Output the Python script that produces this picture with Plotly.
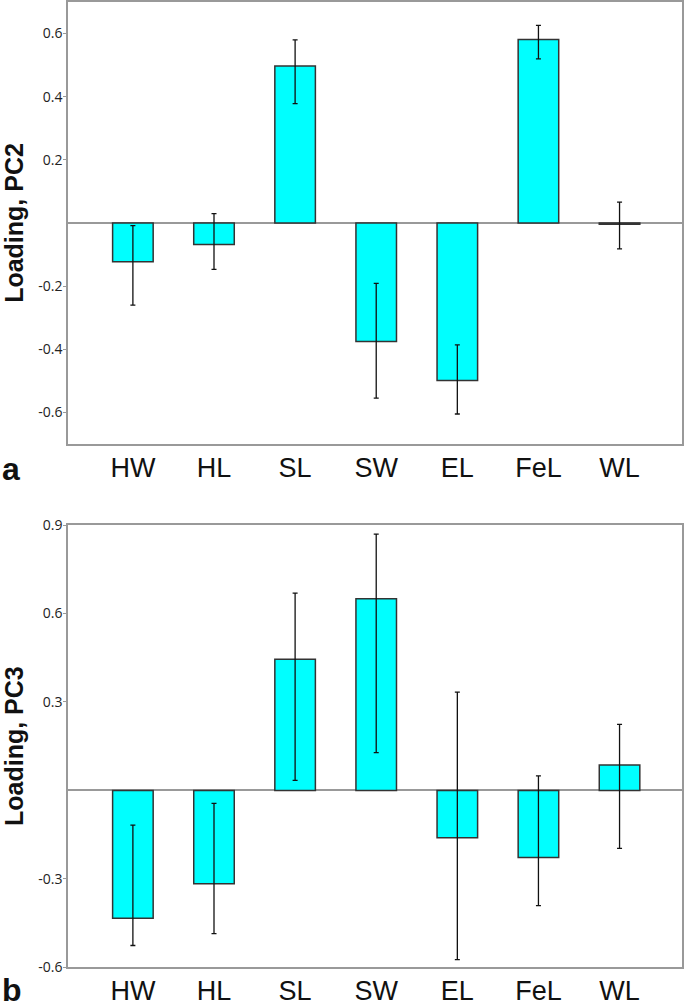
import plotly.graph_objects as go

categories = ["HW", "HL", "SL", "SW", "EL", "FeL", "WL"]

pc2_values = [-0.123, -0.068, 0.497, -0.375, -0.499, 0.581, -0.004]
pc2_err_upper = [-0.008, 0.030, 0.580, -0.191, -0.386, 0.626, 0.066]
pc2_err_lower = [-0.260, -0.147, 0.378, -0.555, -0.605, 0.520, -0.082]

pc3_values = [-0.434, -0.317, 0.445, 0.650, -0.161, -0.228, 0.086]
pc3_err_upper = [-0.118, -0.044, 0.669, 0.869, 0.333, 0.049, 0.224]
pc3_err_lower = [-0.526, -0.486, 0.034, 0.128, -0.574, -0.391, -0.197]

pc2_ticks = [-0.6, -0.4, -0.2, 0.2, 0.4, 0.6]
pc3_ticks = [-0.6, -0.3, 0.3, 0.6, 0.9]

W, H = 685, 1007
fig = go.Figure()


def add_panel(values, up, lo, xa, ya):
    plus = [u - v for u, v in zip(up, values)]
    minus = [v - l for l, v in zip(lo, values)]
    fig.add_trace(go.Bar(
        x=list(range(len(categories))), y=values, width=0.5,
        marker=dict(color="#00FFFF", line=dict(color="#333333", width=1.5)),
        error_y=dict(type="data", symmetric=False, array=plus, arrayminus=minus,
                     color="#111111", thickness=1.3, width=2.5),
        xaxis=xa, yaxis=ya, showlegend=False, hoverinfo="skip",
    ))


add_panel(pc2_values, pc2_err_upper, pc2_err_lower, "x", "y")
add_panel(pc3_values, pc3_err_upper, pc3_err_lower, "x2", "y2")

xdom = [68 / W, 682 / W]
xcommon = dict(
    domain=xdom, range=[-0.8, 6.77], tickmode="array",
    tickvals=list(range(len(categories))), ticktext=categories,
    showline=True, linecolor="#999999", linewidth=1.5, mirror=True,
    showgrid=False, zeroline=False, ticks="", automargin=False,
    tickfont=dict(family="Liberation Sans, Arial", size=27, color="#111111"),
    ticklabelstandoff=-1, fixedrange=True,
)
ycommon = dict(
    showline=True, linecolor="#999999", linewidth=1.5, mirror=True,
    showgrid=False, zeroline=True, zerolinecolor="#999999", zerolinewidth=1.5,
    ticks="outside", ticklen=3, tickcolor="#999999", automargin=False,
    tickfont=dict(family="Open Sans", size=14, color="#222222"),
    ticklabelstandoff=-2, fixedrange=True,
    title=dict(font=dict(family="Liberation Sans, Arial", size=25, color="#111111",
                         weight="bold"), standoff=14),
)

fig.update_layout(
    width=W, height=H, margin=dict(l=0, r=0, t=0, b=0),
    paper_bgcolor="white", plot_bgcolor="white",
    xaxis=dict(anchor="y", **xcommon),
    xaxis2=dict(anchor="y2", **xcommon),
    yaxis=dict(anchor="x", domain=[1 - 444 / H, 1 - 2 / H], range=[-0.7, 0.7],
               tickvals=pc2_ticks, ticktext=[f"{t:.1f}" for t in pc2_ticks],
               **{**ycommon, "title": {**ycommon["title"], "text": "Loading, PC2"}}),
    yaxis2=dict(anchor="x2", domain=[1 - 967.3 / H, 1 - 525 / H], range=[-0.6, 0.9],
                tickvals=pc3_ticks, ticktext=[f"{t:.1f}" for t in pc3_ticks],
                **{**ycommon, "title": {**ycommon["title"], "text": "Loading, PC3"}}),
    annotations=[
        dict(text="<b>a</b>", x=0, y=1 - 469 / H, xref="paper", yref="paper",
             xanchor="left", yanchor="middle", showarrow=False,
             font=dict(family="Liberation Sans, Arial", size=32, color="#111111")),
        dict(text="<b>b</b>", x=0, y=1 - 990 / H, xref="paper", yref="paper",
             xanchor="left", yanchor="middle", showarrow=False,
             font=dict(family="Liberation Sans, Arial", size=32, color="#111111")),
    ],
)

fig.write_html("out.html", config={"displayModeBar": False},
               post_script="document.body.style.margin='0';")
